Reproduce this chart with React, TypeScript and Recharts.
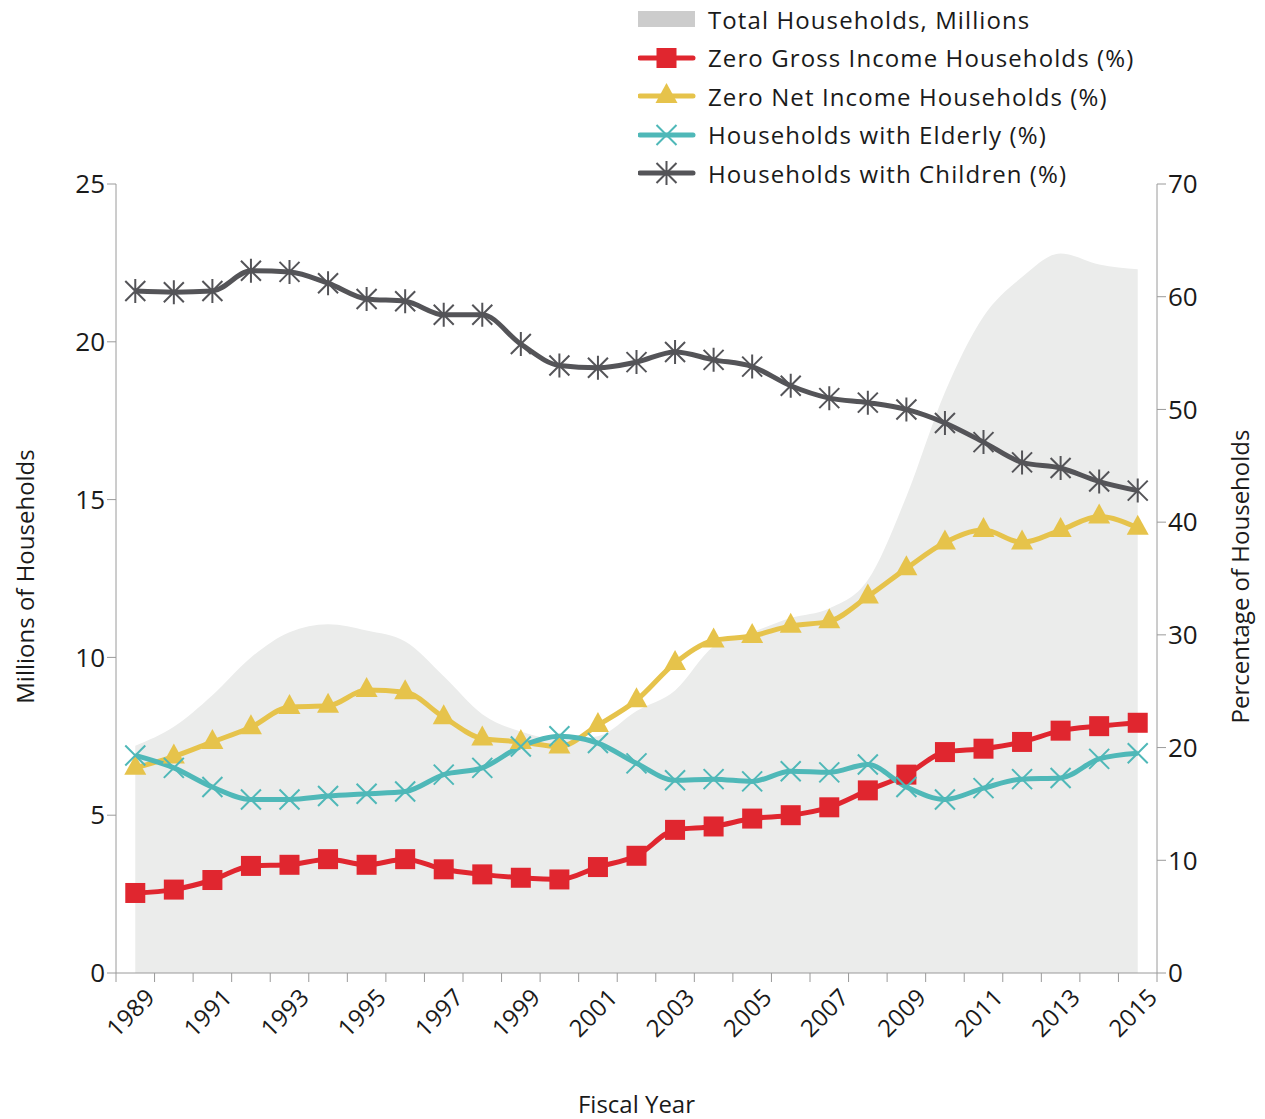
import React from "react"
import { ComposedChart, Area, Line, XAxis, YAxis, Legend } from "recharts"

const years = [
    1989, 1990, 1991, 1992, 1993, 1994, 1995, 1996, 1997, 1998, 1999, 2000, 2001, 2002,
    2003, 2004, 2005, 2006, 2007, 2008, 2009, 2010, 2011, 2012, 2013, 2014, 2015,
]

// millions, left axis
const totalHouseholds = [
    7.2, 7.8, 8.8, 10.0, 10.8, 11.05, 10.85, 10.5, 9.4, 8.2, 7.65, 7.4, 7.5, 8.3,
    8.95, 10.35, 10.8, 11.25, 11.55, 12.45, 15.1, 18.4, 20.8, 22.05, 22.8, 22.45, 22.3,
]

// percentages, right axis
const zeroGross = [
    7.1, 7.4, 8.25, 9.5, 9.6, 10.1, 9.6, 10.1, 9.2, 8.75, 8.45, 8.3, 9.4, 10.4,
    12.7, 13.0, 13.7, 14.0, 14.7, 16.2, 17.6, 19.6, 19.9, 20.5, 21.5, 21.9, 22.2,
]
const zeroNet = [
    18.2, 19.2, 20.5, 21.8, 23.6, 23.7, 25.1, 24.9, 22.7, 20.8, 20.5, 20.1, 22.0, 24.2,
    27.5, 29.5, 29.9, 30.8, 31.2, 33.4, 35.9, 38.2, 39.3, 38.2, 39.3, 40.5, 39.5,
]
const elderly = [
    19.3, 18.2, 16.5, 15.4, 15.4, 15.7, 15.9, 16.1, 17.6, 18.2, 20.1, 21.0, 20.4, 18.6,
    17.1, 17.2, 17.0, 17.9, 17.8, 18.5, 16.5, 15.4, 16.4, 17.2, 17.3, 19.0, 19.5,
]
const children = [
    60.5, 60.4, 60.5, 62.3, 62.2, 61.2, 59.8, 59.6, 58.4, 58.4, 55.8, 53.9, 53.7, 54.2,
    55.1, 54.4, 53.8, 52.1, 51.0, 50.6, 50.0, 48.8, 47.1, 45.3, 44.8, 43.6, 42.8,
]

const leftTicks = [0, 5, 10, 15, 20, 25]
const rightTicks = [0, 10, 20, 30, 40, 50, 60, 70]
const xBoundaries = [...years.map((y) => y - 0.5), 2015.5]

const data = years.map((year, i) => ({
    year,
    total: totalHouseholds[i],
    gross: zeroGross[i],
    net: zeroNet[i],
    elderly: elderly[i],
    children: children[i],
}))

const RED = "#e0262f"
const YELLOW = "#e6c34b"
const TEAL = "#4fb8b8"
const DARK = "#545458"
const AREA = "#ebeceb"
const AXIS = "#9a9a9a"
const TEXT = "#1a1a1a"
const FONT = "'Open Sans', Lato, sans-serif"

const Square = ({ cx, cy, color }: any) => <rect x={cx - 10} y={cy - 10} width={20} height={20} fill={color} />
const Triangle = ({ cx, cy, color }: any) => (
    <polygon points={`${cx},${cy - 13} ${cx + 11},${cy + 7} ${cx - 11},${cy + 7}`} fill={color} />
)
const Cross = ({ cx, cy, color }: any) => (
    <path d={`M${cx - 10},${cy - 10}L${cx + 10},${cy + 10}M${cx - 10},${cy + 10}L${cx + 10},${cy - 10}`} stroke={color} strokeWidth={2} fill="none" />
)
const Star = ({ cx, cy, color }: any) => (
    <path
        d={`M${cx - 10},${cy - 10}L${cx + 10},${cy + 10}M${cx - 10},${cy + 10}L${cx + 10},${cy - 10}M${cx},${cy - 12}L${cx},${cy + 12}`}
        stroke={color}
        strokeWidth={2}
        fill="none"
    />
)

const series = [
    { key: "gross", name: "Zero Gross Income Households (%)", color: RED, Marker: Square },
    { key: "net", name: "Zero Net Income Households (%)", color: YELLOW, Marker: Triangle },
    { key: "elderly", name: "Households with Elderly (%)", color: TEAL, Marker: Cross },
    { key: "children", name: "Households with Children (%)", color: DARK, Marker: Star },
]

const XTick = ({ x, y, payload }: any) => {
    const yr = Math.floor(payload.value)
    if (yr % 2 === 0 || yr < 1989) return null
    return (
        <g transform={`translate(${x - 10},${y + 3})`}>
            <text textAnchor="end" transform="rotate(-45)" dy="0.7em" fontSize={24} fill={TEXT} fontFamily={FONT} letterSpacing={0.3}>
                {yr}
            </text>
        </g>
    )
}

const LegendBox = () => (
    <div style={{ fontFamily: FONT, fontSize: 24, color: TEXT, letterSpacing: 1.1 }}>
        <div style={{ display: "flex", alignItems: "center", height: 38.5 }}>
            <svg width={70} height={24}>
                <rect x={0} y={4} width={57} height={16} fill="#cccccc" />
            </svg>
            <span>Total Households, Millions</span>
        </div>
        {series.map((s) => (
            <div key={s.key} style={{ display: "flex", alignItems: "center", height: 38.5 }}>
                <svg width={70} height={28}>
                    <line x1={2} y1={14} x2={55} y2={14} stroke={s.color} strokeWidth={5} strokeLinecap="round" />
                    <s.Marker cx={28.5} cy={14} color={s.color} />
                </svg>
                <span>{s.name}</span>
            </div>
        ))}
    </div>
)

const App = () => (
    <ComposedChart width={1257} height={1111} data={data} margin={{ top: 176, right: 8, bottom: 46, left: 0 }}>
        <XAxis
            dataKey="year"
            type="number"
            domain={[1988.5, 2015.5]}
            ticks={xBoundaries}
            interval={0}
            tick={<XTick />}
            tickSize={9}
            height={100}
            stroke={AXIS}
            label={{
                content: ({ viewBox }: any) => (
                    <text x={viewBox.x + viewBox.width / 2} y={viewBox.y + 140} textAnchor="middle" fontSize={24} fill={TEXT} fontFamily={FONT}>
                        Fiscal Year
                    </text>
                ),
            }}
        />
        <YAxis
            yAxisId="left"
            domain={[0, 25]}
            ticks={leftTicks}
            width={108}
            tickSize={9}
            stroke={AXIS}
            tick={{ fontSize: 26, fill: TEXT, fontFamily: FONT }}
            label={{
                content: ({ viewBox }: any) => {
                    const cy = viewBox.y + viewBox.height / 2 - 2
                    const cx = 20
                    return (
                        <text x={cx} y={cy} transform={`rotate(-90, ${cx}, ${cy})`} textAnchor="middle" dominantBaseline="middle" fontSize={24} fill={TEXT} fontFamily={FONT}>
                            Millions of Households
                        </text>
                    )
                },
            }}
        />
        <YAxis
            yAxisId="right"
            orientation="right"
            domain={[0, 70]}
            ticks={rightTicks}
            width={100}
            tickSize={9}
            stroke={AXIS}
            tick={{ fontSize: 26, fill: TEXT, fontFamily: FONT }}
            label={{
                content: ({ viewBox }: any) => {
                    const cy = viewBox.y + viewBox.height / 2 - 2
                    const cx = 1235
                    return (
                        <text x={cx} y={cy} transform={`rotate(-90, ${cx}, ${cy})`} textAnchor="middle" dominantBaseline="middle" fontSize={24} fill={TEXT} fontFamily={FONT}>
                            Percentage of Households
                        </text>
                    )
                },
            }}
        />
        <Legend
            layout="vertical"
            align="center"
            verticalAlign="middle"
            wrapperStyle={{ top: -8, left: 630, width: 620 }}
            content={() => <LegendBox />}
        />
        <Area
            yAxisId="left"
            dataKey="total"
            name="Total Households, Millions"
            type="monotone"
            stroke="none"
            fill={AREA}
            fillOpacity={1}
            isAnimationActive={false}
        />
        {series.map((s) => (
            <Line
                key={s.key}
                yAxisId="right"
                dataKey={s.key}
                name={s.name}
                type="monotone"
                stroke={s.color}
                strokeWidth={5}
                dot={(p: any) => <s.Marker key={p.index} cx={p.cx} cy={p.cy} color={s.color} />}
                activeDot={false}
                isAnimationActive={false}
            />
        ))}
    </ComposedChart>
)

export default App
